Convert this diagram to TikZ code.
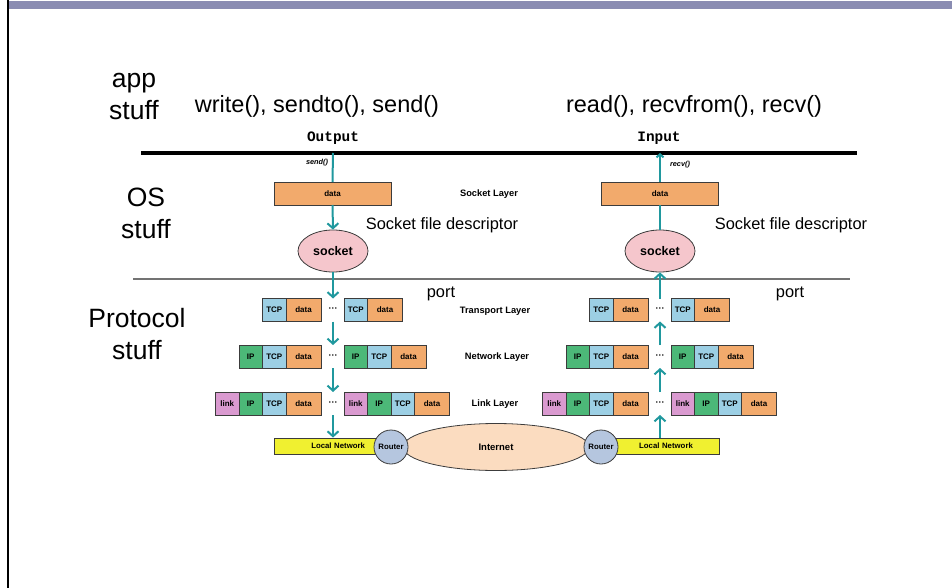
\documentclass[tikz,border=0pt]{standalone}
\usepackage{fontspec}
\setmainfont{Liberation Sans}
\newfontfamily\monof{Liberation Mono}
\usetikzlibrary{shapes.geometric,arrows.meta}
\definecolor{barc}{RGB}{138,140,178}
\definecolor{tealc}{RGB}{32,152,158}
\definecolor{tcpc}{RGB}{156,207,228}
\definecolor{datac}{RGB}{242,170,108}
\definecolor{ipc}{RGB}{76,184,120}
\definecolor{linkc}{RGB}{218,154,208}
\definecolor{lanc}{RGB}{240,240,48}
\definecolor{routc}{RGB}{181,198,223}
\definecolor{inetc}{RGB}{251,220,192}
\definecolor{sockc}{RGB}{245,198,204}
\definecolor{edgec}{RGB}{60,60,60}
\tikzset{
  cellbox/.style={draw=edgec,line width=0.8pt,minimum height=23pt,inner sep=0pt,outer sep=0pt,
    font=\fontsize{8}{9}\selectfont\bfseries},
  tcpcell/.style={cellbox,fill=tcpc,minimum width=23.5pt},
  datacell/.style={cellbox,fill=datac,minimum width=35pt},
  ipcell/.style={cellbox,fill=ipc,minimum width=23.5pt},
  linkcell/.style={cellbox,fill=linkc,minimum width=23.5pt},
  dotsnode/.style={minimum height=23pt,minimum width=23pt,inner sep=0pt,outer sep=0pt,
    font=\fontsize{9}{9}\selectfont\bfseries},
  topdata/.style={cellbox,fill=datac,minimum width=117pt},
  sock/.style={ellipse,draw=edgec,line width=0.8pt,fill=sockc,minimum width=70pt,minimum height=42pt,
    inner sep=0pt,font=\fontsize{12.5}{13}\selectfont\bfseries},
  lan/.style={draw=edgec,line width=0.8pt,fill=lanc,minimum height=16pt,inner sep=0pt,
    font=\fontsize{7.8}{8}\selectfont\bfseries},
  router/.style={circle,draw=edgec,line width=0.8pt,fill=routc,minimum size=34pt,inner sep=0pt,
    font=\fontsize{7.8}{8}\selectfont\bfseries},
  inet/.style={ellipse,draw=edgec,line width=0.8pt,fill=inetc,minimum width=186pt,minimum height=47pt,
    inner sep=0pt,font=\fontsize{9.5}{10}\selectfont\bfseries},
  layerlbl/.style={font=\fontsize{9.3}{10}\selectfont\bfseries,inner sep=0pt},
  biglbl/.style={align=center,font=\fontsize{26.5}{32}\selectfont,inner sep=0pt},
  calllbl/.style={font=\fontsize{23.5}{28}\selectfont,inner sep=0pt},
  midlbl/.style={font=\fontsize{16.4}{19}\selectfont,inner sep=0pt},
  monolbl/.style={font=\fontsize{14.4}{16}\monof\bfseries,inner sep=0pt},
  tinylbl/.style={font=\fontsize{7.3}{8}\selectfont\bfseries\itshape,inner sep=0pt},
  tline/.style={draw=tealc,line width=2pt},
  tarrow/.style={tline,-{Straight Barb[length=5pt,width=11pt]}}
}
\begin{document}
\begin{tikzpicture}[x=1pt,y=-1pt]
\useasboundingbox (0,0) rectangle (952,588);
% frame
\fill[barc] (8,1) rectangle (952,9);
\draw[black,line width=1.5pt] (8,0) -- (8,588);
% separators
\draw[black,line width=3.5pt] (141,153) -- (857,153);
\draw[gray!90!black,line width=1.8pt] (133,279) -- (850,279);
% left labels
\node[biglbl] (appl) at (134,97) {app\\stuff};
\node[biglbl] (osl) at (146,213) {OS\\stuff};
\node[biglbl] (protl) at (137,334) {Protocol\\stuff};
% calls
\node[calllbl] (wcall) at (317,106) {write(), sendto(), send()};
\node[calllbl] (rcall) at (694,106) {read(), recvfrom(), recv()};
\node[monolbl] (outl) at (333,138) {Output};
\node[monolbl] (inl) at (659,138) {Input};
\node[tinylbl] (sendl) at (317,163) {send()};
\node[tinylbl] (recvl) at (680,165) {recv()};
% top data boxes
\node[topdata] (ldata) at (332.5,193.5) {data};
\node[topdata] (rdata) at (660,193.5) {data};
\node[layerlbl] (sockll) at (489,194) {Socket Layer};
% sockets
\node[sock] (lsock) at (333,251) {socket};
\node[sock] (rsock) at (660,251) {socket};
\node[midlbl] (lsfd) at (442,225) {Socket file descriptor};
\node[midlbl] (rsfd) at (791,225) {Socket file descriptor};
\node[midlbl] (lport) at (441,294) {port};
\node[midlbl] (rport) at (790,294) {port};
% layer labels
\node[layerlbl] (transl) at (495,311) {Transport Layer};
\node[layerlbl] (netl) at (497,357) {Network Layer};
\node[layerlbl] (linkl) at (495,404) {Link Layer};
% ---- left column rows ----
% transport
\node[tcpcell] (lta) at (274.25,310) {TCP};
\node[datacell] (ltb) at (303.5,310) {data};
\node[dotsnode] (ltdots) at (333,310) {···};
\node[tcpcell] (ltc) at (355.75,310) {TCP};
\node[datacell] (ltd) at (385,310) {data};
% network
\node[ipcell] (lna) at (250.75,356.5) {IP};
\node[tcpcell] (lnb) at (274.25,356.5) {TCP};
\node[datacell] (lnc) at (303.5,356.5) {data};
\node[dotsnode] (lndots) at (333,356.5) {···};
\node[ipcell] (lnd) at (355.75,356.5) {IP};
\node[tcpcell] (lne) at (379.25,356.5) {TCP};
\node[datacell] (lnf) at (408.5,356.5) {data};
% link
\node[linkcell] (lla) at (227.25,403.5) {link};
\node[ipcell] (llb) at (250.75,403.5) {IP};
\node[tcpcell] (llc) at (274.25,403.5) {TCP};
\node[datacell] (lld) at (303.5,403.5) {data};
\node[dotsnode] (lldots) at (333,403.5) {···};
\node[linkcell] (lle) at (355.75,403.5) {link};
\node[ipcell] (llf) at (379.25,403.5) {IP};
\node[tcpcell] (llg) at (402.75,403.5) {TCP};
\node[datacell] (llh) at (432,403.5) {data};
% ---- right column rows ----
\node[tcpcell] (rta) at (601.25,310) {TCP};
\node[datacell] (rtb) at (630.5,310) {data};
\node[dotsnode] (rtdots) at (660,310) {···};
\node[tcpcell] (rtc) at (682.75,310) {TCP};
\node[datacell] (rtd) at (712,310) {data};
\node[ipcell] (rna) at (577.75,356.5) {IP};
\node[tcpcell] (rnb) at (601.25,356.5) {TCP};
\node[datacell] (rnc) at (630.5,356.5) {data};
\node[dotsnode] (rndots) at (660,356.5) {···};
\node[ipcell] (rnd) at (682.75,356.5) {IP};
\node[tcpcell] (rne) at (706.25,356.5) {TCP};
\node[datacell] (rnf) at (735.5,356.5) {data};
\node[linkcell] (rla) at (554.25,403.5) {link};
\node[ipcell] (rlb) at (577.75,403.5) {IP};
\node[tcpcell] (rlc) at (601.25,403.5) {TCP};
\node[datacell] (rld) at (630.5,403.5) {data};
\node[dotsnode] (rldots) at (660,403.5) {···};
\node[linkcell] (rle) at (682.75,403.5) {link};
\node[ipcell] (rlf) at (706.25,403.5) {IP};
\node[tcpcell] (rlg) at (729.75,403.5) {TCP};
\node[datacell] (rlh) at (759,403.5) {data};
% network bottom
\node[inet] (inet) at (496,447) {Internet};
\node[lan,minimum width=108pt,text width=74pt,align=right] (llan) at (328,446) {Local Network};
\node[lan,minimum width=106pt,text width=98pt,align=center] (rlan) at (666,446) {Local Network};
\node[router] (lrout) at (391,447) {Router};
\node[router] (rrout) at (601,447) {Router};
% coordinates on separator line
\coordinate (ltop) at (333,153);
\coordinate (rtop) at (660,153);
% left arrows (downwards)
\draw[tline] (ltop) -- (ldata.north);
\draw[tarrow] (ldata.south) -- (lsock.north);
\draw[tarrow] (lsock.south) -- (ltdots.north);
\draw[tarrow] (ltdots.south) -- (lndots.north);
\draw[tarrow] (lndots.south) -- (lldots.north);
\draw[tarrow] (lldots.south) -- (lldots.south |- llan.north);
% right arrows (upwards)
\draw[tarrow] (rldots.south |- rlan.north) -- (rldots.south);
\draw[tarrow] (rldots.north) -- (rndots.south);
\draw[tarrow] (rndots.north) -- (rtdots.south);
\draw[tarrow] (rtdots.north) -- (rsock.south);
\draw[tline] (rsock.north) -- (rdata.south);
\draw[tline,-{Straight Barb[length=3pt,width=7pt]}] (rdata.north) -- (rtop);
\end{tikzpicture}
\end{document}
